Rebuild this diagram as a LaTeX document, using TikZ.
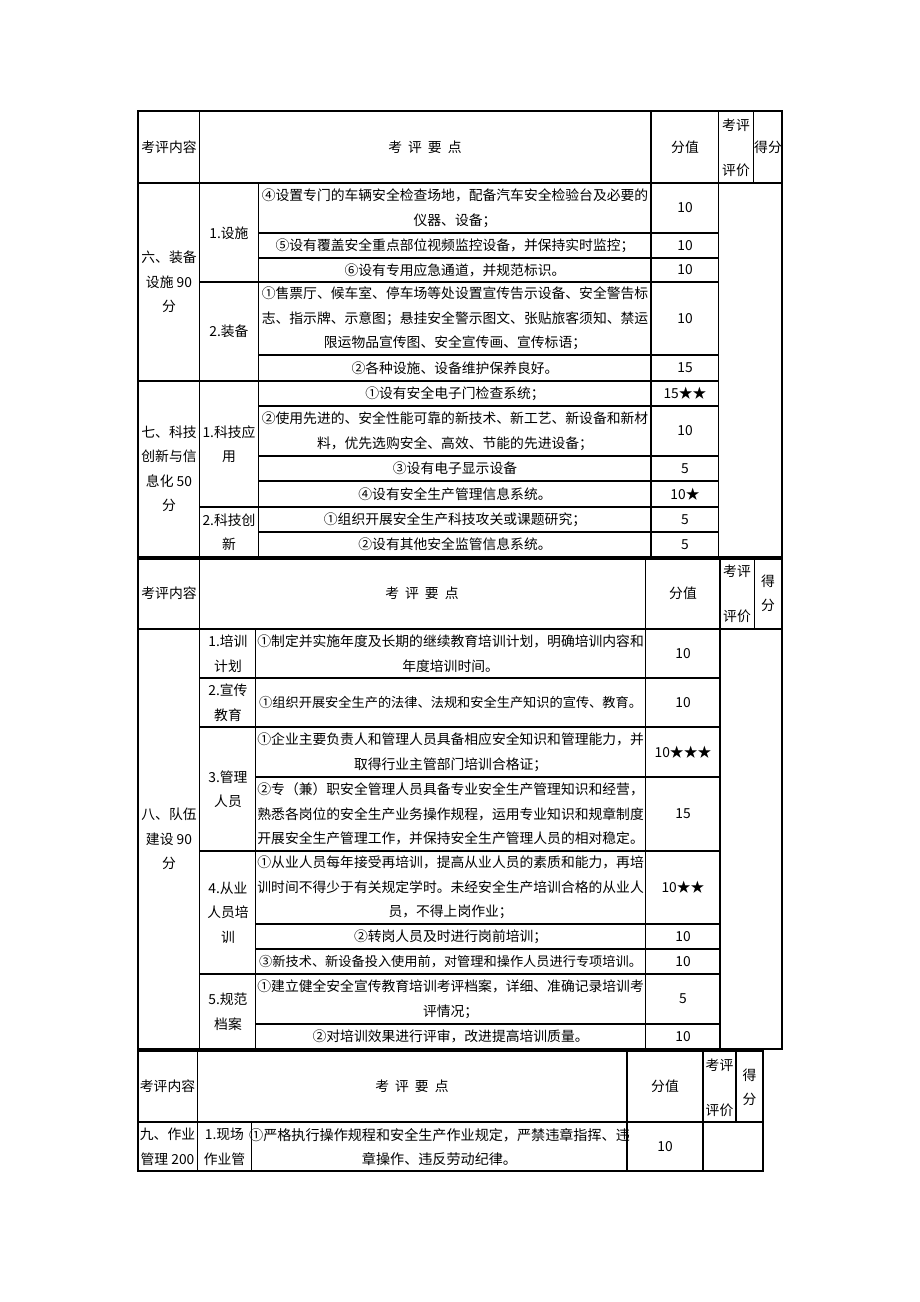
\documentclass[tikz,border=0pt]{standalone}
\usepackage{fontspec}
\newfontfamily\cjk{Noto Sans CJK SC}
\newcommand{\hgap}{\hspace{6pt}}
\begin{document}
\begin{tikzpicture}[x=1pt,y=-1pt,
  tl/.style={line width=1.3pt,black},
  t/.style={inner sep=0pt,align=center,font=\cjk\fontsize{13.8}{24.5}\selectfont},
  ts/.style={inner sep=0pt,align=center,font=\cjk\fontsize{13.2}{24.5}\selectfont},
  tw/.style={inner sep=0pt,align=center,font=\cjk\fontsize{14.1}{24.5}\selectfont}]
\useasboundingbox[fill=white] (0,0) rectangle (920,1302);

% ---------------- Table 1 ----------------
\draw[tl] (138,111) rectangle (782,557);
\draw[tl] (138,183) -- (782,183);
\draw[tl] (199.6,111) -- (199.6,557);
\draw[tl] (258.7,183) -- (258.7,557);
\draw[tl] (651,111) -- (651,557);
\draw[tl] (718.6,111) -- (718.6,557);
\draw[tl] (753.6,111) -- (753.6,183);
\foreach \y in {233,258,355,406,456,481,532}{\draw[tl] (258.7,\y) -- (718.6,\y);}
\foreach \y in {282,507}{\draw[tl] (199.6,\y) -- (718.6,\y);}
\draw[tl] (138,381) -- (718.6,381);

\node[t] (h1a) at (169,147) {考评内容};
\node[t] (h1b) at (425,147) {考\hgap 评\hgap 要\hgap 点};
\node[t] (h1c) at (685,147) {分值};
\node[t] (h1d) at (736,125) {考评};
\node[t] (h1e) at (736,170) {评价};
\node[t] (h1f) at (768,147) {得分};

\node[t] (s6) at (169,282) {六、装备\\设施 90\\分};
\node[t] (s6a) at (229,233) {1.设施};
\node[t] (s6b) at (229,331) {2.装备};
\node[t] (r1) at (455,208) {④设置专门的车辆安全检查场地，配备汽车安全检验台及必要的\\仪器、设备；};
\node[t] (v1) at (685,208) {10};
\node[t] (r2) at (455,245.5) {⑤设有覆盖安全重点部位视频监控设备，并保持实时监控；};
\node[t] (v2) at (685,245.5) {10};
\node[t] (r3) at (455,270) {⑥设有专用应急通道，并规范标识。};
\node[t] (v3) at (685,270) {10};
\node[t] (r4) at (455,318.5) {①售票厅、候车室、停车场等处设置宣传告示设备、安全警告标\\志、指示牌、示意图；悬挂安全警示图文、张贴旅客须知、禁运\\限运物品宣传图、安全宣传画、宣传标语；};
\node[t] (v4) at (685,318.5) {10};
\node[t] (r5) at (455,368) {②各种设施、设备维护保养良好。};
\node[t] (v5) at (685,368) {15};

\node[t] (s7) at (169,469) {七、科技\\创新与信\\息化 50\\分};
\node[t] (s7a) at (229,444) {1.科技应\\用};
\node[t] (s7b) at (229,532) {2.科技创\\新};
\node[t] (r6) at (455,393.5) {①设有安全电子门检查系统；};
\node[t] (v6) at (685,393.5) {15★★};
\node[t] (r7) at (455,431) {②使用先进的、安全性能可靠的新技术、新工艺、新设备和新材\\料，优先选购安全、高效、节能的先进设备；};
\node[t] (v7) at (685,431) {10};
\node[t] (r8) at (455,468.5) {③设有电子显示设备};
\node[t] (v8) at (685,468.5) {5};
\node[t] (r9) at (455,494) {④设有安全生产管理信息系统。};
\node[t] (v9) at (685,494) {10★};
\node[t] (r10) at (455,519.5) {①组织开展安全生产科技攻关或课题研究；};
\node[t] (v10) at (685,519.5) {5};
\node[t] (r11) at (455,544.5) {②设有其他安全监管信息系统。};
\node[t] (v11) at (685,544.5) {5};

% ---------------- Table 2 ----------------
\draw[tl] (138,559) rectangle (782,1049);
\draw[tl] (138,629) -- (782,629);
\draw[tl] (199.6,559) -- (199.6,1049);
\draw[tl] (255.7,629) -- (255.7,1049);
\draw[tl] (645.6,559) -- (645.6,1049);
\draw[tl] (719.9,559) -- (719.9,1049);
\draw[tl] (754.5,559) -- (754.5,629);
\foreach \y in {678,727,851,974}{\draw[tl] (199.6,\y) -- (719.9,\y);}
\foreach \y in {777,924,949,1024}{\draw[tl] (255.7,\y) -- (719.9,\y);}

\node[t] (h2a) at (169,593) {考评内容};
\node[t] (h2b) at (422,593) {考\hgap 评\hgap 要\hgap 点};
\node[t] (h2c) at (683,593) {分值};
\node[t] (h2d) at (737,571) {考评};
\node[t] (h2e) at (737,616) {评价};
\node[t] (h2f) at (768,593.5) {得\\分};

\node[t] (s8) at (169,839) {八、队伍\\建设 90\\分};
\node[t] (s8a) at (228,653.5) {1.培训\\计划};
\node[t] (s8b) at (228,702.5) {2.宣传\\教育};
\node[t] (s8c) at (228,789) {3.管理\\人员};
\node[t] (s8d) at (228,912.5) {4.从业\\人员培\\训};
\node[t] (s8e) at (228,1011.5) {5.规范\\档案};
\node[t] (q1) at (450.6,653.5) {①制定并实施年度及长期的继续教育培训计划，明确培训内容和\\年度培训时间。};
\node[t] (w1) at (683,653.5) {10};
\node[ts] (q2) at (450.6,702.5) {①组织开展安全生产的法律、法规和安全生产知识的宣传、教育。};
\node[t] (w2) at (683,702.5) {10};
\node[t] (q3) at (450.6,752) {①企业主要负责人和管理人员具备相应安全知识和管理能力，并\\取得行业主管部门培训合格证；};
\node[t] (w3) at (683,752) {10★★★};
\node[t] (q4) at (450.6,814) {②专（兼）职安全管理人员具备专业安全生产管理知识和经营，\\熟悉各岗位的安全生产业务操作规程，运用专业知识和规章制度\\开展安全生产管理工作，并保持安全生产管理人员的相对稳定。};
\node[t] (w4) at (683,814) {15};
\node[t] (q5) at (450.6,887.5) {①从业人员每年接受再培训，提高从业人员的素质和能力，再培\\训时间不得少于有关规定学时。未经安全生产培训合格的从业人\\员，不得上岗作业；};
\node[t] (w5) at (683,887.5) {10★★};
\node[t] (q6) at (450.6,936.5) {②转岗人员及时进行岗前培训；};
\node[t] (w6) at (683,936.5) {10};
\node[ts] (q7) at (450.6,961.5) {③新技术、新设备投入使用前，对管理和操作人员进行专项培训。};
\node[t] (w7) at (683,961.5) {10};
\node[t] (q8) at (450.6,999) {①建立健全安全宣传教育培训考评档案，详细、准确记录培训考\\评情况；};
\node[t] (w8) at (683,999) {5};
\node[t] (q9) at (450.6,1036.5) {②对培训效果进行评审，改进提高培训质量。};
\node[t] (w9) at (683,1036.5) {10};

% ---------------- Table 3 ----------------
\draw[tl] (138,1051) rectangle (763,1171);
\draw[tl] (138,1122) -- (763,1122);
\draw[tl] (197.5,1051) -- (197.5,1171);
\draw[tl] (251.5,1122) -- (251.5,1171);
\draw[tl] (627,1051) -- (627,1171);
\draw[tl] (703,1051) -- (703,1171);
\draw[tl] (736,1051) -- (736,1122);

\node[t] (h3a) at (167.5,1086) {考评内容};
\node[t] (h3b) at (412,1086) {考\hgap 评\hgap 要\hgap 点};
\node[t] (h3c) at (665,1086) {分值};
\node[t] (h3d) at (719.5,1065) {考评};
\node[t] (h3e) at (719.5,1110) {评价};
\node[t] (h3f) at (749.5,1087.5) {得\\分};
\node[t] (s9) at (167.5,1147) {九、作业\\管理 200};
\node[t] (s9a) at (224.5,1147) {1.现场\\作业管};
\node[tw] (p1) at (439.5,1147) {①严格执行操作规程和安全生产作业规定，严禁违章指挥、违\\章操作、违反劳动纪律。};
\node[t] (u1) at (665,1147) {10};
\end{tikzpicture}
\end{document}
